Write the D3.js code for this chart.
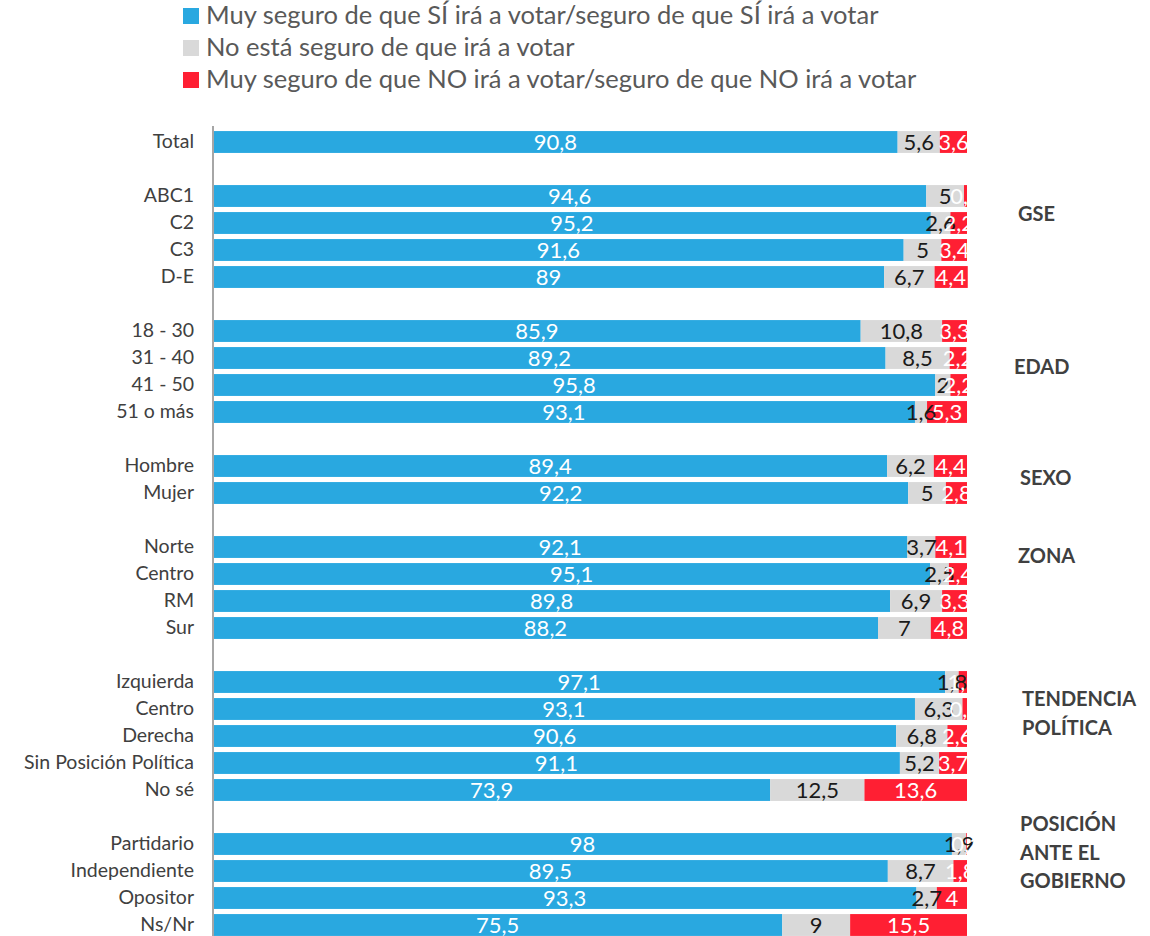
<!DOCTYPE html>
<meta charset="utf-8">
<head>
<script src="https://cdn.jsdelivr.net/npm/d3@7"></script>
<style>
  body { margin: 0; background: #fff; }
  text { font-family: Lato, "Open Sans", sans-serif; }
</style>
</head>
<body>
<div id="chart"></div>
<script>
// rows, "" = empty spacer row
var categories = ["Total", "", "ABC1", "C2", "C3", "D-E", "",
  "18 - 30", "31 - 40", "41 - 50", "51 o más", "",
  "Hombre", "Mujer", "",
  "Norte", "Centro", "RM", "Sur", "",
  "Izquierda", "Centro ", "Derecha", "Sin Posición Política", "No sé", "",
  "Partidario", "Independiente", "Opositor", "Ns/Nr"];

var siVota  = [90.8, null, 94.6, 95.2, 91.6, 89, null, 85.9, 89.2, 95.8, 93.1, null, 89.4, 92.2, null,
  92.1, 95.1, 89.8, 88.2, null, 97.1, 93.1, 90.6, 91.1, 73.9, null, 98, 89.5, 93.3, 75.5];
var noSeguro = [5.6, null, 5.0, 2.6, 5, 6.7, null, 10.8, 8.5, 2, 1.6, null, 6.2, 5, null,
  3.7, 2.5, 6.9, 7, null, 1.8, 6.3, 6.8, 5.2, 12.5, null, 1.9, 8.7, 2.7, 9];
var noVota  = [3.6, null, 0.4, 2.2, 3.4, 4.4, null, 3.3, 2.2, 2.2, 5.3, null, 4.4, 2.8, null,
  4.1, 2.4, 3.3, 4.8, null, 1.1, 0.6, 2.6, 3.7, 13.6, null, 0.1, 1.8, 4, 15.5];

var seriesNames = ["Muy seguro de que SÍ irá a votar/seguro de que SÍ irá a votar",
  "No está seguro de que irá a votar",
  "Muy seguro de que NO irá a votar/seguro de que NO irá a votar"];
var colors = ["#29A8E0", "#D9D9D9", "#FF1F33"];
var textColors = ["#fff", "#1a1a1a", "#fff"];

var groups = [
  {lines: ["GSE"], row: 2.67, x: 1018},
  {lines: ["EDAD"], row: 8.33, x: 1014},
  {lines: ["SEXO"], row: 12.44, x: 1020},
  {lines: ["ZONA"], row: 15.33, x: 1018},
  {lines: ["TENDENCIA", "POLÍTICA"], row: 20.63, x: 1022},
  {lines: ["POSICIÓN", "ANTE EL", "GOBIERNO"], row: 25.26, x: 1020}
];

var width = 1150, height = 936;
var svg = d3.select("#chart").append("svg")
  .attr("width", width).attr("height", height);

var x = d3.scaleLinear().domain([0, 100]).range([213, 967]);
var y = d3.scaleBand().domain(d3.range(categories.length))
  .range([128.5, 938.5]).paddingInner(0.19).paddingOuter(0.095);

// legend
seriesNames.forEach(function(s, i) {
  var g = svg.append("g").attr("transform", "translate(183," + (8 + i * 32) + ")");
  g.append("rect").attr("width", 16).attr("height", 16).attr("fill", colors[i]);
  g.append("text").attr("x", 23).attr("y", 16).attr("font-size", 25.5)
    .attr("fill", "#595959").text(s);
});

var data = categories.map(function(c, i) {
  return {cat: c, i: i, vals: [siVota[i], noSeguro[i], noVota[i]]};
}).filter(function(d) { return d.cat !== ""; });

var rows = svg.append("g").selectAll("g").data(data).enter().append("g");

rows.each(function(d) {
  var g = d3.select(this), acc = 0;
  d.vals.forEach(function(v, k) {
    g.append("rect")
      .attr("x", x(acc)).attr("y", y(d.i))
      .attr("width", x(acc + v) - x(acc)).attr("height", y.bandwidth())
      .attr("fill", colors[k]);
    acc += v;
  });
});

rows.each(function(d) {
  var g = d3.select(this), acc = 0;
  d.vals.forEach(function(v, k) {
    g.append("text")
      .attr("x", (x(acc) + x(Math.min(acc + v, 100))) / 2)
      .attr("y", y(d.i) + y.bandwidth() / 2 + 7.5)
      .attr("text-anchor", "middle").attr("font-size", 22)
      .attr("fill", textColors[k])
      .text(String(v).replace(".", ","));
    acc += v;
  });
});

// category labels
rows.append("text")
  .attr("x", 194).attr("y", function(d) { return y(d.i) + y.bandwidth() / 2 + 6; })
  .attr("text-anchor", "end").attr("font-size", 19.5).attr("fill", "#404040")
  .text(function(d) { return d.cat; });

// axis line
svg.append("line").attr("x1", 213).attr("x2", 213).attr("y1", 126).attr("y2", 936)
  .attr("stroke", "#A6A6A6").attr("stroke-width", 2);

// group labels
groups.forEach(function(gr) {
  var yc = y(Math.floor(gr.row)) + (gr.row % 1) * y.step() + y.bandwidth() / 2;
  gr.lines.forEach(function(l, j) {
    svg.append("text").attr("x", gr.x).attr("y", yc + 7 + j * 28.5)
      .attr("font-size", 20).attr("font-weight", "bold").attr("fill", "#404040")
      .text(l);
  });
});
</script>
</body>
